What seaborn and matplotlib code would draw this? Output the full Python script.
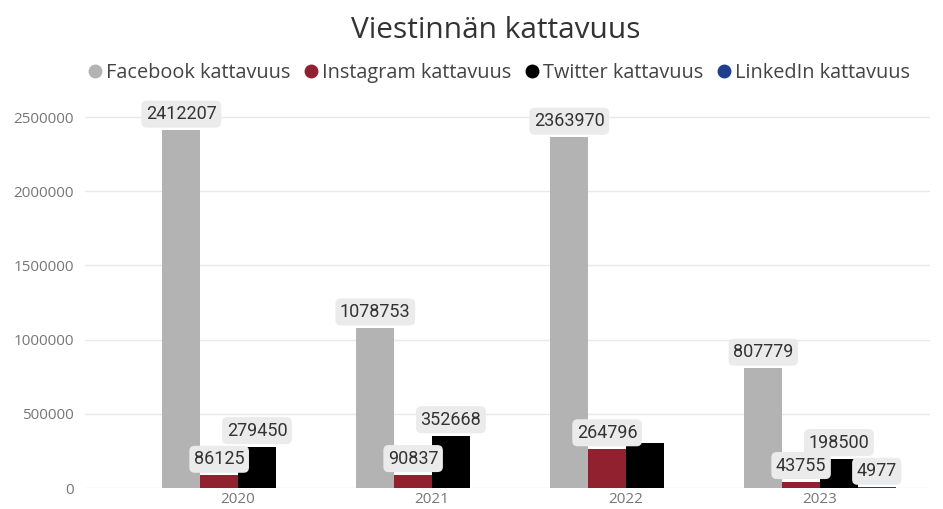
import matplotlib
matplotlib.use("Agg")
import matplotlib.pyplot as plt
import seaborn as sns
import pandas as pd
from matplotlib.lines import Line2D

# Values
years = ["2020", "2021", "2022", "2023"]
series = ["Facebook kattavuus", "Instagram kattavuus", "Twitter kattavuus", "LinkedIn kattavuus"]
facebook = [2412207, 1078753, 2363970, 807779]
instagram = [86125, 90837, 264796, 43755]
twitter = [279450, 352668, 303000, 198500]  # 2022 has no label in the original
linkedin = [0, 0, 0, 4977]
twitter_labels = [True, True, False, True]
colors = ["#B3B3B3", "#922130", "#000000", "#1F3E8E"]

rows = []
for name, vals in zip(series, [facebook, instagram, twitter, linkedin]):
    for y, v in zip(years, vals):
        rows.append({"Vuosi": y, "Sarja": name, "Arvo": v})
df = pd.DataFrame(rows)

sns.set_style("white")
plt.rcParams["font.family"] = ["Open Sans", "DejaVu Sans"]

fig = plt.figure(figsize=(9.43, 5.09), dpi=100)
ax = fig.add_axes([85 / 943, 1 - 488 / 509, 845 / 943, 383 / 509])

sns.barplot(data=df, x="Vuosi", y="Arvo", hue="Sarja", palette=colors,
            width=0.78, ax=ax, legend=False, saturation=1, linewidth=0)

ax.set_xlim(-0.789, 3.567)
ax.set_ylim(0, 2581000)
ax.set_yticks([0, 500000, 1000000, 1500000, 2000000, 2500000])
ax.set_yticklabels(["0", "500000", "1000000", "1500000", "2000000", "2500000"])
ax.yaxis.grid(True, color="#EAEAEA", linewidth=1)
ax.set_axisbelow(True)
for s in ax.spines.values():
    s.set_visible(False)
ax.tick_params(axis="both", length=0, colors="#777777", labelsize=11)
ax.tick_params(axis="y", pad=8)
ax.tick_params(axis="x", pad=3)
ax.set_xlabel("")
ax.set_ylabel("")

# data labels
all_vals = [facebook, instagram, twitter, linkedin]
for i, cont in enumerate(ax.containers):
    vals = all_vals[i]
    for j, bar in enumerate(cont):
        v = vals[j]
        if v == 0:
            continue
        if i == 2 and not twitter_labels[j]:
            continue
        ax.annotate(str(v), (bar.get_x() + bar.get_width() / 2, bar.get_height()),
                    xytext=(0, 5), textcoords="offset points", ha="center", va="bottom",
                    fontsize=13, color="#333333", family=["Roboto", "DejaVu Sans"],
                    bbox=dict(boxstyle="round,pad=0.25,rounding_size=0.3",
                              fc="#EBEBEB", ec="none"))

fig.text(496 / 943, 1 - 31 / 509, "Viestinnän kattavuus", ha="center", va="center",
         fontsize=21.5, color="#333333")

handles = [Line2D([], [], marker="o", linestyle="", markersize=9, color=c) for c in colors]
fig.legend(handles, series, loc="center", bbox_to_anchor=(495 / 943, 1 - 73 / 509), ncol=4,
           frameon=False, fontsize=14.3, handletextpad=-0.2, columnspacing=0.3,
           labelcolor="#444444", handlelength=1.5)

fig.savefig("out.png", dpi=100)
